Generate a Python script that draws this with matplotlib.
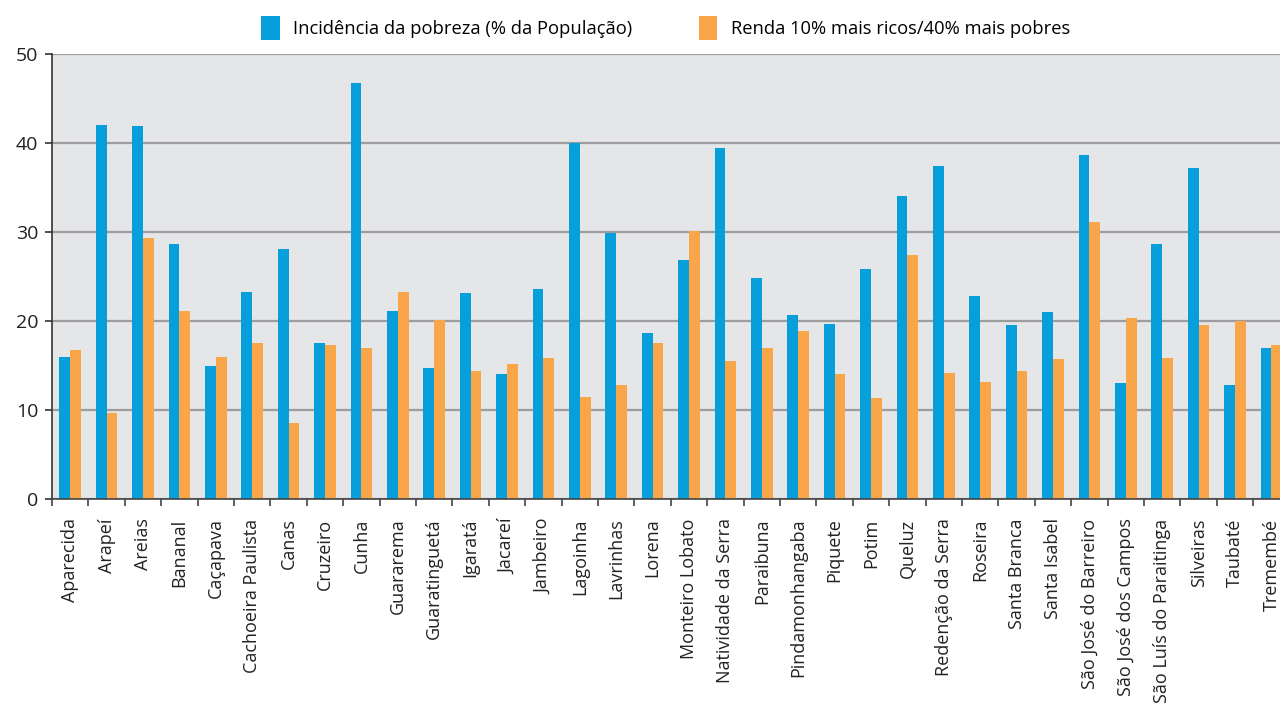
import numpy as np
import matplotlib.pyplot as plt
from matplotlib.ticker import FixedLocator

municipios = ['Aparecida', 'Arapeí', 'Areias', 'Bananal', 'Caçapava', 'Cachoeira Paulista',
              'Canas', 'Cruzeiro', 'Cunha', 'Guararema', 'Guaratinguetá', 'Igaratá', 'Jacareí',
              'Jambeiro', 'Lagoinha', 'Lavrinhas', 'Lorena', 'Monteiro Lobato',
              'Natividade da Serra', 'Paraibuna', 'Pindamonhangaba', 'Piquete', 'Potim',
              'Queluz', 'Redenção da Serra', 'Roseira', 'Santa Branca', 'Santa Isabel',
              'São José do Barreiro', 'São José dos Campos', 'São Luís do Paraitinga',
              'Silveiras', 'Taubaté', 'Tremembé']

pobreza = [16.0, 42.0, 41.9, 28.6, 15.0, 23.3, 28.1, 17.5, 46.7, 21.1, 14.7, 23.1, 14.0,
           23.6, 40.0, 29.9, 18.7, 26.8, 39.4, 24.8, 20.7, 19.7, 25.8, 34.1, 37.4, 22.8,
           19.5, 21.0, 38.6, 13.0, 28.6, 37.2, 12.8, 17.0]

renda = [16.7, 9.7, 29.3, 21.1, 16.0, 17.5, 8.5, 17.3, 17.0, 23.3, 20.1, 14.4, 15.2,
         15.8, 11.5, 12.8, 17.5, 30.1, 15.5, 17.0, 18.9, 14.0, 11.4, 27.4, 14.2, 13.2,
         14.4, 15.7, 31.1, 20.3, 15.8, 19.5, 20.0, 17.3]

BlueCol = '#079FDB'
OrangeCol = '#F9A64B'

plt.rcParams['font.family'] = ['Open Sans', 'DejaVu Sans']

fig = plt.figure(figsize=(12.8, 7.04), dpi=100)
# axes run past the right edge, like the cropped original
W, H = 1280., 704.
n = len(municipios)
catw = 36.4
ax = fig.add_axes([52 / W, (H - 499) / H, n * catw / W, (499 - 54) / H])

x = np.arange(n)
bw = 0.295
ax.bar(x - bw / 2, pobreza, bw, color=BlueCol, label='Incidência da pobreza (% da População)', zorder=2)
ax.bar(x + bw / 2, renda, bw, color=OrangeCol, label='Renda 10% mais ricos/40% mais pobres', zorder=2)

ax.set_facecolor('#E5E6E8')
ax.set_xlim(-0.5, n - 0.5)
ax.set_ylim(0, 50)
ax.set_yticks([0, 10, 20, 30, 40, 50])
ax.yaxis.grid(True, color='#9D9D9F', linewidth=1.6, zorder=1)
ax.set_axisbelow(True)

ax.set_xticks(x)
ax.set_xticklabels(municipios, rotation=90, fontsize=13, color='#222222')
ax.xaxis.set_minor_locator(FixedLocator(np.arange(-0.5, n, 1.0)))
ax.tick_params(axis='x', which='major', length=0, pad=14)
ax.tick_params(axis='x', which='minor', length=5, width=1.2, color='#444444', direction='out')
ax.tick_params(axis='y', length=5, width=1.2, color='#333333', labelsize=14, labelcolor='#222222', pad=5)

for s in ['top', 'right']:
    ax.spines[s].set_visible(False)
ax.spines['left'].set_color('#333333')
ax.spines['left'].set_linewidth(1.2)
ax.spines['bottom'].set_color('#444444')
ax.spines['bottom'].set_linewidth(1.2)

fig.legend(loc='upper center', bbox_to_anchor=(0.52, 1.0), ncol=2, frameon=False,
           fontsize=13.2, handlelength=1.0, handleheight=1.6, columnspacing=3.6, handletextpad=0.75)

plt.savefig('out.png', dpi=100)
